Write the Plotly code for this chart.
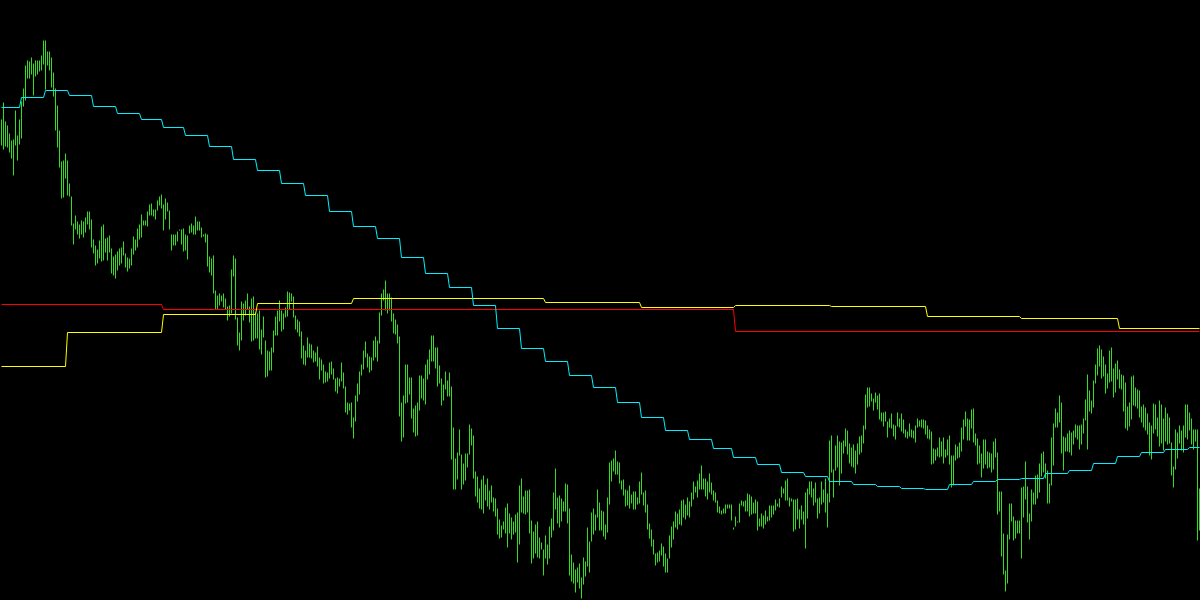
import plotly.graph_objects as go

# ---- price bars (high / low), one bar per period, 600 periods ----
bar_high = [
    481, 498, 479, 475, 467, 460, 461, 490, 465, 481,
    499, 512, 535, 540, 539, 543, 537, 540, 540, 540,
    545, 560, 560, 549, 549, 543, 528, 512, 495, 470,
    439, 440, 447, 440, 417, 404, 377, 385, 379, 376,
    380, 379, 383, 389, 389, 381, 361, 355, 351, 360,
    374, 376, 362, 363, 365, 352, 344, 346, 349, 352,
    353, 359, 347, 343, 342, 352, 364, 361, 372, 376,
    386, 380, 380, 389, 396, 397, 391, 391, 400, 404,
    406, 396, 402, 398, 390, 366, 366, 366, 369, 371,
    371, 372, 366, 365, 375, 377, 375, 384, 379, 379,
    373, 366, 367, 366, 344, 342, 345, 310, 305, 307,
    305, 307, 302, 294, 295, 331, 345, 342, 283, 268,
    299, 297, 300, 307, 294, 302, 304, 288, 287, 290,
    271, 284, 260, 250, 249, 253, 270, 284, 290, 300,
    290, 287, 293, 309, 308, 307, 304, 285, 281, 279,
    269, 255, 250, 263, 257, 256, 250, 248, 254, 243,
    241, 236, 229, 228, 238, 239, 232, 222, 223, 222,
    238, 228, 214, 198, 197, 198, 183, 205, 217, 229,
    236, 250, 259, 247, 244, 243, 260, 264, 260, 288,
    307, 311, 320, 307, 307, 303, 287, 281, 276, 264,
    198, 205, 236, 236, 223, 223, 192, 195, 198, 225,
    225, 222, 236, 241, 251, 265, 265, 253, 253, 235,
    222, 216, 229, 220, 228, 214, 173, 142, 148, 171,
    146, 137, 147, 147, 176, 172, 165, 129, 124, 112,
    121, 125, 116, 122, 110, 115, 103, 102, 92, 81,
    75, 79, 93, 97, 87, 83, 79, 86, 88, 115,
    122, 104, 110, 110, 111, 80, 69, 76, 79, 63,
    58, 51, 65, 56, 74, 82, 108, 132, 103, 105,
    102, 99, 117, 116, 92, 46, 38, 31, 33, 37,
    23, 43, 39, 73, 59, 88, 92, 86, 111, 98,
    90, 89, 76, 103, 138, 140, 142, 150, 139, 138,
    120, 121, 111, 110, 115, 106, 109, 109, 103, 119,
    128, 108, 110, 96, 77, 71, 61, 47, 48, 50,
    57, 54, 47, 42, 65, 74, 79, 89, 87, 91,
    100, 101, 96, 103, 99, 108, 119, 114, 120, 127,
    135, 122, 122, 119, 127, 118, 110, 108, 100, 94,
    90, 92, 96, 96, 96, 96, 73, 84, 79, 97,
    100, 99, 100, 107, 106, 104, 98, 101, 99, 82,
    87, 85, 90, 84, 95, 95, 95, 101, 97, 102,
    114, 112, 120, 122, 103, 102, 101, 101, 102, 91,
    95, 89, 108, 112, 119, 119, 112, 118, 102, 103,
    119, 111, 122, 107, 160, 165, 131, 155, 165, 159,
    158, 160, 172, 170, 157, 153, 156, 150, 157, 164,
    165, 175, 206, 213, 213, 207, 202, 208, 205, 207,
    188, 188, 189, 179, 182, 187, 176, 175, 188, 182,
    187, 181, 171, 169, 177, 171, 170, 175, 182, 180,
    181, 181, 180, 175, 171, 169, 152, 151, 153, 163,
    159, 163, 151, 161, 165, 145, 145, 156, 154, 158,
    173, 181, 189, 182, 181, 191, 192, 167, 162, 155,
    147, 161, 161, 149, 148, 147, 159, 162, 148, 109,
    109, 67, 30, 66, 97, 97, 84, 80, 80, 80,
    113, 114, 139, 114, 87, 111, 108, 125, 126, 137,
    147, 149, 137, 130, 117, 163, 177, 192, 188, 205,
    198, 164, 163, 167, 170, 168, 170, 176, 175, 175,
    176, 182, 201, 226, 210, 200, 220, 236, 252, 255,
    251, 244, 236, 227, 250, 253, 232, 237, 240, 231,
    226, 225, 218, 194, 198, 224, 225, 213, 211, 210,
    194, 196, 193, 187, 178, 175, 197, 196, 183, 200,
    196, 182, 193, 187, 183, 158, 134, 171, 168, 175,
    170, 175, 196, 196, 188, 182, 171, 171, 171, 112,
]

bar_low = [
    455, 451, 454, 453, 448, 442, 425, 455, 440, 456,
    462, 494, 500, 522, 522, 526, 505, 524, 526, 529,
    530, 536, 511, 535, 530, 513, 504, 470, 453, 433,
    402, 403, 422, 405, 404, 375, 356, 371, 366, 362,
    366, 363, 368, 376, 371, 353, 347, 335, 337, 342,
    339, 340, 348, 340, 348, 327, 325, 322, 330, 335,
    337, 345, 333, 329, 332, 335, 346, 350, 353, 361,
    363, 375, 375, 374, 385, 385, 384, 381, 390, 395,
    392, 370, 381, 389, 371, 350, 355, 355, 359, 370,
    356, 349, 350, 341, 367, 368, 366, 366, 370, 370,
    363, 364, 358, 334, 328, 325, 307, 291, 291, 295,
    299, 293, 291, 280, 284, 287, 324, 281, 255, 250,
    260, 280, 285, 291, 278, 259, 260, 262, 262, 251,
    246, 263, 223, 224, 230, 230, 248, 265, 265, 279,
    269, 271, 283, 284, 291, 299, 283, 271, 268, 264,
    242, 236, 235, 243, 243, 242, 238, 239, 234, 221,
    230, 217, 218, 219, 222, 226, 221, 209, 207, 214,
    219, 212, 188, 186, 190, 173, 162, 179, 199, 206,
    225, 231, 243, 233, 228, 230, 240, 243, 239, 257,
    285, 300, 290, 287, 290, 279, 267, 266, 257, 184,
    159, 163, 197, 198, 206, 182, 168, 164, 165, 190,
    202, 200, 196, 221, 226, 239, 239, 232, 214, 217,
    195, 200, 211, 204, 204, 141, 111, 111, 121, 145,
    111, 116, 120, 133, 146, 155, 122, 104, 98, 92,
    91, 87, 100, 94, 91, 98, 89, 84, 66, 62,
    63, 71, 67, 53, 67, 61, 66, 68, 38, 56,
    88, 87, 86, 88, 67, 37, 42, 47, 43, 42,
    51, 25, 42, 36, 42, 63, 70, 91, 77, 73,
    79, 89, 89, 77, 25, 19, 17, 8, 18, 12,
    2, 16, 24, 34, 28, 59, 66, 70, 83, 70,
    70, 64, 61, 68, 96, 119, 129, 126, 126, 117,
    111, 105, 94, 95, 92, 97, 91, 91, 96, 97,
    106, 95, 88, 71, 62, 54, 46, 35, 38, 39,
    45, 34, 28, 28, 42, 53, 61, 73, 71, 76,
    75, 83, 81, 85, 83, 94, 101, 108, 103, 111,
    111, 111, 104, 101, 108, 106, 100, 98, 88, 87,
    86, 87, 87, 92, 92, 80, 71, 74, 78, 78,
    95, 94, 89, 89, 84, 86, 87, 87, 70, 74,
    74, 72, 76, 79, 80, 83, 86, 90, 94, 93,
    103, 107, 100, 100, 94, 99, 69, 71, 81, 72,
    81, 76, 52, 82, 106, 103, 95, 98, 82, 87,
    96, 98, 88, 73, 98, 128, 103, 130, 133, 115,
    127, 147, 154, 146, 137, 134, 133, 127, 136, 146,
    148, 157, 171, 193, 194, 199, 190, 198, 191, 181,
    179, 174, 179, 163, 173, 172, 164, 161, 174, 173,
    169, 167, 163, 162, 164, 163, 162, 158, 173, 174,
    173, 172, 166, 162, 161, 136, 137, 140, 144, 143,
    144, 137, 143, 145, 136, 113, 115, 140, 142, 143,
    149, 161, 174, 160, 160, 172, 158, 155, 136, 137,
    123, 132, 136, 132, 133, 128, 131, 143, 86, 89,
    44, 26, 9, 17, 61, 79, 60, 62, 67, 67,
    42, 83, 101, 78, 61, 79, 96, 96, 102, 108,
    124, 128, 122, 97, 97, 115, 135, 173, 173, 178,
    147, 130, 149, 149, 148, 145, 156, 163, 161, 151,
    156, 167, 180, 151, 189, 187, 193, 217, 225, 234,
    222, 224, 207, 212, 218, 219, 203, 208, 221, 212,
    211, 189, 172, 170, 174, 181, 195, 194, 192, 183,
    178, 173, 170, 166, 145, 141, 167, 171, 164, 154,
    157, 150, 159, 156, 157, 125, 113, 131, 142, 157,
    150, 148, 163, 161, 170, 156, 151, 159, 60, 70,
]

# ---- indicator levels: (first bar index, level) ----
cyan_start = [0, 10, 22, 34, 46, 58, 70, 81, 92, 104, 116, 128, 140, 152, 164,
              176, 188, 200, 212, 224, 236, 248, 260, 272, 284, 296, 308, 320,
              332, 344, 356, 366, 378, 390, 402, 414, 426, 438, 450, 462, 474,
              486, 498, 510, 522, 534, 546, 558, 570, 582, 594]
cyan_level = [493, 503, 510, 505, 494, 487, 481, 473, 465, 454, 441, 430, 417,
              405, 389, 374, 362, 343, 327, 313, 295, 272, 252, 239, 225, 213,
              198, 183, 170, 161, 152, 143, 136, 128, 124, 119, 116, 114, 112,
              111, 116, 119, 121, 122, 127, 130, 137, 144, 148, 151, 153]

yellow_start = [0, 33, 81, 128, 176, 272, 320, 367, 415, 463, 510, 559]
yellow_level = [234, 268, 286, 297, 302, 298, 293, 295, 294, 284, 282, 272]

red_start = [0, 81, 367]
red_level = [296, 291, 269]

n_bars = len(bar_high)
idx = list(range(n_bars))


def expand(starts, levels, n):
    out = []
    k = 0
    for i in range(n):
        while k + 1 < len(starts) and starts[k + 1] <= i:
            k += 1
        out.append(levels[k])
    return out


cyan = expand(cyan_start, cyan_level, n_bars)
yellow = expand(yellow_start, yellow_level, n_bars)
red = expand(red_start, red_level, n_bars)

# high-low bars as one segmented line trace
bx, by = [], []
for i, h, l in zip(idx, bar_high, bar_low):
    bx += [i, i, None]
    by += [l, h, None]

fig = go.Figure()
fig.add_trace(go.Scatter(x=bx, y=by, mode="lines",
                         line=dict(color="#33DD22", width=1),
                         hoverinfo="skip", connectgaps=False))
fig.add_trace(go.Scatter(x=idx, y=red, mode="lines",
                         line=dict(color="#FF0000", width=1), hoverinfo="skip"))
fig.add_trace(go.Scatter(x=idx, y=yellow, mode="lines",
                         line=dict(color="#FFFF00", width=1), hoverinfo="skip"))
fig.add_trace(go.Scatter(x=idx, y=cyan, mode="lines",
                         line=dict(color="#00F0FF", width=1), hoverinfo="skip"))

fig.update_layout(
    width=1200, height=600,
    margin=dict(l=0, r=0, t=0, b=0, pad=0),
    paper_bgcolor="black", plot_bgcolor="black",
    showlegend=False, hovermode=False,
    xaxis=dict(visible=False, range=[-0.75, n_bars - 0.75], fixedrange=True),
    yaxis=dict(visible=False, range=[0.5, 600.5], fixedrange=True),
)

fig.write_html("out.html", config={"displayModeBar": False, "staticPlot": True},
               post_script="document.body.style.margin='0';document.body.style.overflow='hidden';")
